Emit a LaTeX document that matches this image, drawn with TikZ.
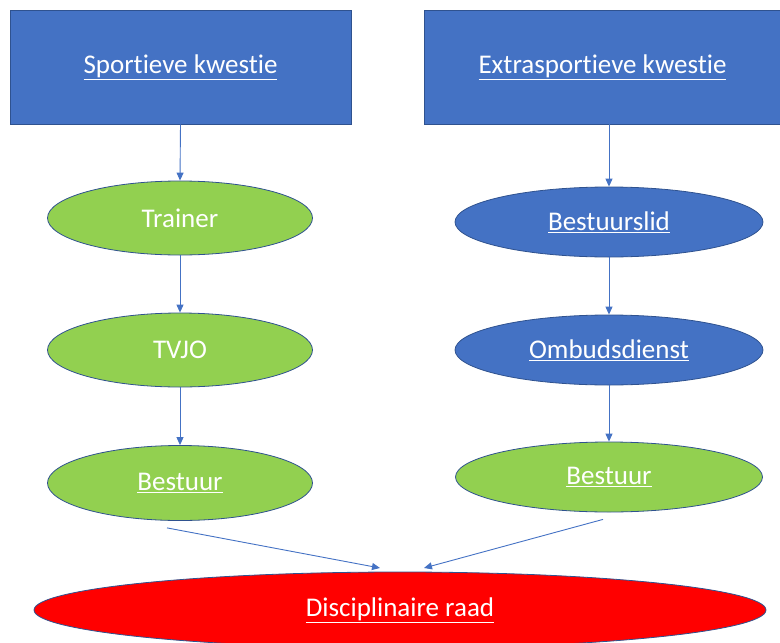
\documentclass[tikz,border=0pt]{standalone}
\usepackage{fontspec}
\setmainfont[Ligatures={NoCommon}]{Carlito}
\usetikzlibrary{shapes.geometric,arrows.meta}
\definecolor{offblue}{HTML}{4472C4}
\definecolor{offline}{HTML}{2F528F}
\definecolor{offgreen}{HTML}{92D050}
\definecolor{offred}{HTML}{FF0000}
\newcommand{\wu}[1]{\underline{#1}}
\tikzset{
  base/.style={draw=offline, line width=0.8pt, text=white, font=\fontsize{27}{32}\selectfont, inner sep=0pt},
  boxnode/.style={base, rectangle, fill=offblue},
  greenell/.style={base, ellipse, fill=offgreen},
  blueell/.style={base, ellipse, fill=offblue},
  redell/.style={base, ellipse, fill=offred},
  conn/.style={draw=offblue, line width=0.9pt, -{Triangle[length=8pt,width=7pt]}},
}
\begin{document}
\begin{tikzpicture}[x=1pt,y=-1pt]
\useasboundingbox (0,0) rectangle (780,643);
\clip (0,0) rectangle (780,643);
\node[boxnode, minimum width=341pt, minimum height=114pt] (sk) at (180.5,67) {\wu{Sportieve kwestie}};
\node[boxnode, minimum width=357pt, minimum height=114pt] (ek) at (602.5,67) {\wu{Extrasportieve kwestie}};
\node[greenell, minimum width=265pt, minimum height=74pt] (tr) at (180,218) {Trainer};
\node[greenell, minimum width=265pt, minimum height=74pt] (tv) at (180,350) {TVJO};
\node[greenell, minimum width=265pt, minimum height=75pt] (bl) at (180,483) {\wu{Bestuur}};
\node[blueell, minimum width=308pt, minimum height=70pt] (bs) at (609,222) {\wu{Bestuurslid}};
\node[blueell, minimum width=308pt, minimum height=70pt] (om) at (609,350) {\wu{Ombudsdienst}};
\node[greenell, minimum width=307pt, minimum height=70pt] (br) at (609,477) {\wu{Bestuur}};
\node[redell, minimum width=732pt, minimum height=76pt] (dr) at (400,610) {\wu{Disciplinaire raad}};
\coordinate (la) at (380,568);
\coordinate (ra) at (424,568);
\draw[conn] (sk.south) -- (tr.north);
\draw[conn] (tr.south) -- (tv.north);
\draw[conn] (tv.south) -- (bl.north);
\draw[conn] (ek.south -| bs.north) -- (bs.north);
\draw[conn] (bs.south) -- (om.north);
\draw[conn] (om.south) -- (br.north);
\draw[conn] (bl.south) ++(-13,7) -- (la);
\draw[conn] (br.south) ++(-6,7) -- (ra);
\end{tikzpicture}
\end{document}
